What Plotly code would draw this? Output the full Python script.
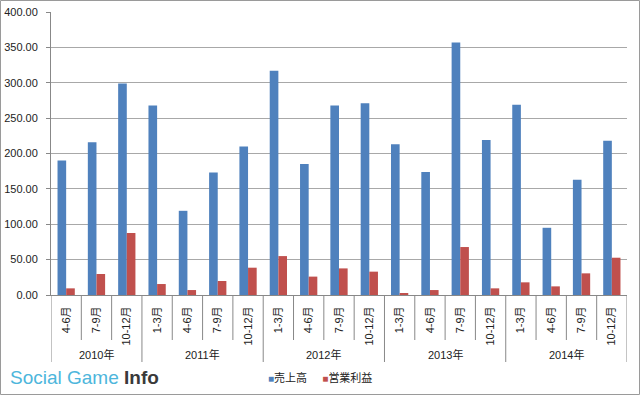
import plotly.graph_objects as go

years = ["2010年", "2011年", "2012年", "2013年", "2014年"]
quarters_by_year = [
    ["4-6月", "7-9月", "10-12月"],
    ["1-3月", "4-6月", "7-9月", "10-12月"],
    ["1-3月", "4-6月", "7-9月", "10-12月"],
    ["1-3月", "4-6月", "7-9月", "10-12月"],
    ["1-3月", "4-6月", "7-9月", "10-12月"],
]
series_names = ["売上高", "営業利益"]
sales = [190, 216, 299, 268, 119, 173, 210, 317, 185, 268, 271, 213, 174, 357, 219, 269, 95, 163, 218]
op_profit = [9.4, 29.7, 87.6, 15.5, 7, 19.8, 38.6, 55, 26, 37.6, 33, 2.8, 7, 67.8, 9.4, 17.9, 12.2, 30.6, 52.7]
y_ticks = [0, 50, 100, 150, 200, 250, 300, 350, 400]

quarters = [q for grp in quarters_by_year for q in grp]
idx = list(range(len(quarters)))

FONT = "Liberation Sans, Arial, Noto Sans CJK JP, sans-serif"
AX = "#888888"
BLUE, RED = "#4F81BD", "#C0504D"

fig = go.Figure()
fig.add_trace(go.Bar(x=idx, y=sales, name=series_names[0], marker=dict(color=BLUE, line=dict(width=0))))
fig.add_trace(go.Bar(x=idx, y=op_profit, name=series_names[1], marker=dict(color=RED, line=dict(width=0))))

W, H = 640, 395
L, R, T, B = 51, 13, 12, 100
pw, ph = W - L - R, H - T - B

def py(pix):
    return (H - B - pix) / ph

def pxx(pix):
    return (pix - L) / pw

shapes = []
annotations = []
pos = 0
bounds = [-0.5]
for gi, grp in enumerate(quarters_by_year):
    start = pos
    for qi in range(len(grp)):
        if qi > 0:
            shapes.append(dict(type="line", xref="x", yref="paper", x0=pos - 0.5, x1=pos - 0.5,
                               y0=0, y1=py(340), line=dict(color=AX, width=1)))
        pos += 1
    bounds.append(pos - 0.5)
    annotations.append(dict(x=(start + pos - 1) / 2, y=py(354), xref="x", yref="paper",
                            text=years[gi], showarrow=False, xanchor="center", yanchor="middle",
                            font=dict(size=11, color="#222222", family=FONT)))
for b in bounds:
    shapes.append(dict(type="line", xref="x", yref="paper", x0=b, x1=b,
                       y0=0, y1=py(362), line=dict(color=AX, width=1)))

# outer border
shapes.append(dict(type="rect", xref="paper", yref="paper",
                   x0=pxx(0.5), x1=pxx(639.5), y0=py(394.5), y1=py(0.5),
                   line=dict(color="#9a9a9a", width=1)))

# legend (Excel style small squares)
annotations.append(dict(x=pxx(266), y=py(378), xref="paper", yref="paper", showarrow=False,
                        xanchor="left", yanchor="middle",
                        text=(f"<span style='color:{BLUE};font-size:10px'>■</span>{series_names[0]}"
                              + "&nbsp;" * 5 +
                              f"<span style='color:{RED};font-size:10px'>■</span>{series_names[1]}"),
                        font=dict(size=11, family=FONT, color="#222222")))

annotations.append(dict(x=pxx(8), y=py(390), xref="paper", yref="paper", showarrow=False,
                        xanchor="left", yanchor="bottom",
                        text="<span style='color:#4db6dc'>Social Game </span><b><span style='color:#3a3a3a'>Info</span></b>",
                        font=dict(size=19, family="Liberation Sans, Arial, sans-serif")))

fig.update_layout(
    template="none",
    width=W, height=H, autosize=False,
    margin=dict(l=L, r=R, t=T, b=B, autoexpand=False),
    paper_bgcolor="white", plot_bgcolor="white",
    barmode="group", bargap=0.43, bargroupgap=0,
    font=dict(family=FONT, size=11, color="#222222"),
    showlegend=False,
    shapes=shapes, annotations=annotations,
    xaxis=dict(range=[-0.5, len(quarters) - 0.5], tickmode="array", tickvals=idx, ticktext=quarters,
               tickangle=-90, ticks="", showgrid=False, showline=True, linecolor=AX, linewidth=1,
               tickfont=dict(size=11, family=FONT, color="#222222"), ticklabelstandoff=6,
               zeroline=False, automargin=False),
    yaxis=dict(range=[0, 400], tickmode="array", tickvals=y_ticks, tickformat=".2f",
               showgrid=True, gridcolor="#a8a8a8", gridwidth=1, showline=True, linecolor=AX, linewidth=1,
               ticks="outside", ticklen=4, tickcolor=AX, zeroline=False, automargin=False,
               tickfont=dict(size=11, family=FONT, color="#222222"), ticklabelstandoff=6),
)

fig.write_html("out.html", config={"displayModeBar": False},
               post_script="document.body.style.margin='0';document.body.style.overflow='hidden';")
